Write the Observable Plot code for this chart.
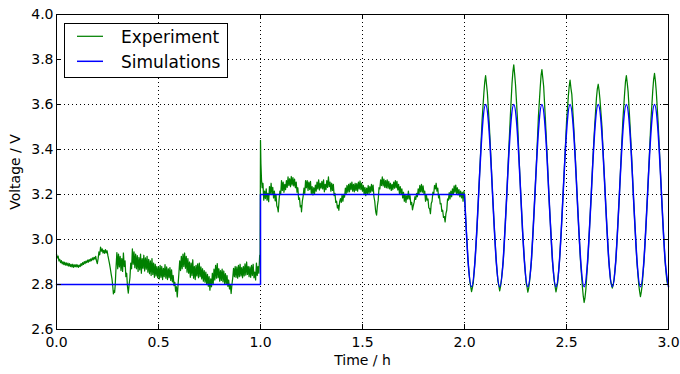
<!DOCTYPE html>
<html>
<head>
<meta charset="utf-8">
<script src="https://cdn.jsdelivr.net/npm/d3@7"></script>
<script src="https://cdn.jsdelivr.net/npm/@observablehq/plot@0.6"></script>
<style>
  html, body { margin: 0; padding: 0; background: #fff; }
  #wrap { position: relative; width: 680px; height: 374px; font-family: "DejaVu Sans", sans-serif; }
  #legend { position: absolute; left: 64px; top: 23px; width: 162px; height: 53px; border: 1px solid #000; background: #fff; }
  #legend svg { position: absolute; left: 0; top: 0; }
  #legend .tx { position: absolute; left: 56px; font-size: 17px; line-height: 20px; color: #000; white-space: nowrap; }
</style>
</head>
<body>
<div id="wrap"></div>
<script>
// ---------- data ----------
const xTicks = [0, 0.5, 1.0, 1.5, 2.0, 2.5, 3.0];
const yTicks = [2.6, 2.8, 3.0, 3.2, 3.4, 3.6, 3.8, 4.0];
const seriesNames = ["Experiment", "Simulations"];

// Experiment, rest period (0 - 1 h): [time h, voltage V]
const expRest = [
[0.000,2.935],[0.004,2.918],[0.008,2.926],[0.012,2.905],[0.016,2.912],[0.020,2.897],[0.024,2.906],[0.028,2.892],[0.032,2.901],[0.036,2.888],
[0.040,2.899],[0.044,2.886],[0.048,2.896],[0.052,2.884],[0.056,2.895],[0.060,2.882],[0.064,2.893],[0.068,2.880],[0.072,2.889],[0.076,2.878],
[0.080,2.890],[0.084,2.876],[0.088,2.887],[0.092,2.879],[0.096,2.889],[0.100,2.878],[0.104,2.887],[0.108,2.876],[0.112,2.886],[0.116,2.880],
[0.120,2.893],[0.124,2.884],[0.128,2.897],[0.132,2.889],[0.136,2.902],[0.140,2.893],[0.144,2.904],[0.148,2.897],[0.152,2.908],[0.156,2.899],
[0.160,2.911],[0.164,2.903],[0.168,2.914],[0.172,2.906],[0.176,2.918],[0.180,2.910],[0.184,2.921],[0.188,2.913],[0.192,2.925],[0.196,2.905],
[0.200,2.893],[0.204,2.915],[0.208,2.945],[0.212,2.932],[0.216,2.966],[0.220,2.948],[0.224,2.958],[0.228,2.940],[0.232,2.952],[0.236,2.938],
[0.240,2.955],[0.244,2.941],[0.248,2.950],[0.252,2.928],[0.256,2.910],[0.260,2.892],[0.264,2.870],[0.268,2.846],[0.272,2.825],[0.276,2.790],
[0.279,2.758],[0.282,2.772],[0.285,2.765],[0.288,2.800],[0.292,2.880],[0.296,2.942],[0.300,2.870],[0.304,2.935],[0.308,2.878],[0.312,2.925],
[0.316,2.862],[0.320,2.915],[0.324,2.858],[0.328,2.940],[0.332,2.880],[0.336,2.905],[0.340,2.835],[0.344,2.850],[0.348,2.790],[0.352,2.762],
[0.356,2.800],[0.360,2.830],[0.364,2.895],[0.368,2.870],[0.372,2.958],[0.376,2.890],[0.380,2.945],[0.384,2.875],[0.388,2.935],[0.392,2.870],
[0.396,2.928],[0.400,2.858],[0.404,2.920],[0.408,2.865],[0.412,2.935],[0.416,2.850],[0.420,2.915],[0.424,2.872],[0.428,2.930],[0.432,2.860],
[0.436,2.918],[0.440,2.868],[0.444,2.925],[0.448,2.855],[0.452,2.912],[0.456,2.848],[0.460,2.905],[0.464,2.840],[0.468,2.915],[0.472,2.845],
[0.476,2.895],[0.480,2.832],[0.484,2.890],[0.488,2.838],[0.492,2.880],[0.496,2.830],[0.500,2.878],[0.504,2.825],[0.508,2.885],[0.512,2.832],
[0.516,2.880],[0.520,2.822],[0.524,2.872],[0.528,2.835],[0.532,2.888],[0.536,2.828],[0.540,2.878],[0.544,2.822],[0.548,2.870],[0.552,2.830],
[0.556,2.875],[0.560,2.818],[0.564,2.865],[0.568,2.812],[0.572,2.840],[0.576,2.795],[0.580,2.810],[0.584,2.770],[0.588,2.790],[0.592,2.745],
[0.596,2.800],[0.600,2.850],[0.604,2.905],[0.608,2.862],[0.612,2.925],[0.616,2.870],[0.620,2.935],[0.624,2.880],[0.628,2.940],[0.632,2.872],
[0.636,2.925],[0.640,2.855],[0.644,2.915],[0.648,2.850],[0.652,2.900],[0.656,2.832],[0.660,2.895],[0.664,2.840],[0.668,2.910],[0.672,2.828],
[0.676,2.880],[0.680,2.822],[0.684,2.885],[0.688,2.838],[0.692,2.892],[0.696,2.830],[0.700,2.895],[0.704,2.835],[0.708,2.878],[0.712,2.825],
[0.716,2.870],[0.720,2.815],[0.724,2.862],[0.728,2.810],[0.732,2.855],[0.736,2.800],[0.740,2.845],[0.744,2.792],[0.748,2.835],[0.752,2.775],
[0.756,2.825],[0.760,2.790],[0.764,2.850],[0.768,2.800],[0.772,2.868],[0.776,2.820],[0.780,2.885],[0.784,2.828],[0.788,2.893],[0.792,2.830],
[0.796,2.870],[0.800,2.815],[0.804,2.862],[0.808,2.818],[0.812,2.868],[0.816,2.812],[0.820,2.860],[0.824,2.805],[0.828,2.848],[0.832,2.800],
[0.836,2.840],[0.840,2.792],[0.844,2.820],[0.848,2.780],[0.852,2.800],[0.856,2.760],[0.860,2.800],[0.864,2.830],[0.868,2.872],[0.872,2.835],
[0.876,2.880],[0.880,2.832],[0.884,2.878],[0.888,2.828],[0.892,2.885],[0.896,2.835],[0.900,2.890],[0.904,2.838],[0.908,2.875],[0.912,2.830],
[0.916,2.880],[0.920,2.838],[0.924,2.892],[0.928,2.842],[0.932,2.900],[0.936,2.845],[0.940,2.880],[0.944,2.835],[0.948,2.878],[0.952,2.832],
[0.956,2.885],[0.960,2.840],[0.964,2.890],[0.968,2.830],[0.972,2.855],[0.976,2.820],[0.980,2.895],[0.984,2.840],[0.988,2.880],[0.992,2.850],
[0.996,2.930],[0.998,2.905]
];

// Experiment, charge period (1 - 2 h)
const expCharge = [
[1.000,3.441],[1.002,3.338],[1.005,3.264],[1.008,3.230],[1.012,3.250],[1.016,3.175],[1.020,3.215],[1.024,3.182],[1.028,3.225],[1.032,3.175],
[1.036,3.205],[1.040,3.168],[1.044,3.235],[1.048,3.205],[1.052,3.250],[1.056,3.200],[1.060,3.232],[1.064,3.185],[1.068,3.215],[1.072,3.172],
[1.076,3.200],[1.080,3.150],[1.084,3.140],[1.087,3.123],[1.091,3.175],[1.095,3.215],[1.099,3.200],[1.103,3.262],[1.107,3.218],[1.111,3.255],
[1.115,3.210],[1.119,3.245],[1.123,3.222],[1.127,3.262],[1.131,3.232],[1.135,3.278],[1.139,3.240],[1.143,3.270],[1.147,3.235],[1.151,3.280],
[1.155,3.242],[1.159,3.275],[1.163,3.238],[1.167,3.268],[1.171,3.230],[1.175,3.255],[1.179,3.210],[1.183,3.230],[1.187,3.178],[1.191,3.185],
[1.195,3.145],[1.199,3.150],[1.201,3.123],[1.205,3.170],[1.209,3.192],[1.213,3.228],[1.217,3.205],[1.221,3.262],[1.225,3.230],[1.229,3.262],
[1.233,3.218],[1.237,3.255],[1.241,3.222],[1.245,3.258],[1.249,3.205],[1.253,3.235],[1.257,3.198],[1.261,3.230],[1.265,3.205],[1.269,3.242],
[1.273,3.215],[1.277,3.255],[1.281,3.225],[1.285,3.265],[1.289,3.220],[1.293,3.250],[1.297,3.228],[1.301,3.258],[1.305,3.225],[1.309,3.265],
[1.313,3.212],[1.317,3.245],[1.321,3.222],[1.325,3.262],[1.329,3.232],[1.333,3.278],[1.337,3.235],[1.341,3.255],[1.345,3.215],[1.349,3.250],
[1.353,3.218],[1.357,3.245],[1.361,3.195],[1.365,3.205],[1.369,3.165],[1.373,3.170],[1.377,3.140],[1.381,3.152],[1.384,3.130],[1.388,3.168],
[1.392,3.182],[1.396,3.165],[1.400,3.198],[1.404,3.170],[1.408,3.200],[1.412,3.188],[1.416,3.228],[1.420,3.205],[1.424,3.240],[1.428,3.210],
[1.432,3.245],[1.436,3.212],[1.440,3.250],[1.444,3.222],[1.448,3.255],[1.452,3.215],[1.456,3.245],[1.460,3.212],[1.464,3.250],[1.468,3.218],
[1.472,3.248],[1.476,3.215],[1.480,3.255],[1.484,3.225],[1.488,3.260],[1.492,3.222],[1.496,3.250],[1.500,3.215],[1.504,3.240],[1.508,3.200],
[1.512,3.232],[1.516,3.195],[1.520,3.228],[1.524,3.205],[1.528,3.240],[1.532,3.202],[1.536,3.235],[1.540,3.210],[1.544,3.245],[1.548,3.215],
[1.552,3.242],[1.556,3.190],[1.560,3.170],[1.564,3.130],[1.566,3.118],[1.569,3.108],[1.573,3.150],[1.577,3.175],[1.581,3.230],[1.585,3.225],
[1.589,3.265],[1.593,3.240],[1.597,3.278],[1.601,3.238],[1.605,3.268],[1.609,3.232],[1.613,3.262],[1.617,3.230],[1.621,3.265],[1.625,3.228],
[1.629,3.258],[1.633,3.225],[1.637,3.250],[1.641,3.218],[1.645,3.245],[1.649,3.222],[1.653,3.255],[1.657,3.228],[1.661,3.262],[1.665,3.230],
[1.669,3.258],[1.673,3.220],[1.677,3.245],[1.681,3.205],[1.685,3.235],[1.689,3.200],[1.693,3.225],[1.697,3.185],[1.701,3.210],[1.705,3.170],
[1.709,3.200],[1.713,3.165],[1.717,3.195],[1.721,3.180],[1.725,3.215],[1.729,3.180],[1.733,3.195],[1.737,3.155],[1.741,3.165],[1.745,3.132],
[1.749,3.150],[1.753,3.165],[1.757,3.190],[1.761,3.178],[1.765,3.205],[1.769,3.190],[1.773,3.225],[1.777,3.202],[1.781,3.240],[1.785,3.212],
[1.789,3.245],[1.793,3.210],[1.797,3.238],[1.801,3.205],[1.805,3.215],[1.809,3.170],[1.813,3.198],[1.817,3.175],[1.821,3.180],[1.825,3.140],
[1.829,3.138],[1.833,3.115],[1.837,3.160],[1.841,3.170],[1.845,3.210],[1.849,3.200],[1.853,3.240],[1.857,3.225],[1.861,3.250],[1.865,3.215],
[1.869,3.228],[1.873,3.185],[1.877,3.195],[1.881,3.158],[1.885,3.160],[1.889,3.125],[1.893,3.130],[1.897,3.098],[1.901,3.102],[1.905,3.078],
[1.909,3.115],[1.913,3.130],[1.917,3.180],[1.921,3.175],[1.925,3.208],[1.929,3.180],[1.933,3.215],[1.937,3.190],[1.941,3.225],[1.945,3.200],
[1.949,3.238],[1.953,3.210],[1.957,3.242],[1.961,3.205],[1.965,3.230],[1.969,3.198],[1.973,3.222],[1.977,3.190],[1.981,3.215],[1.985,3.185],
[1.989,3.210],[1.993,3.170],[1.997,3.215]
];

// Experiment, cycling period (2 - 3 h)
const expCycle = [
[2.0000,3.200],[2.0086,3.046],[2.0173,2.903],[2.0259,2.815],[2.0302,2.792],[2.0345,2.768],[2.0388,2.786],[2.0431,2.808],[2.0518,2.910],[2.0604,3.036],
[2.0690,3.198],[2.0776,3.358],[2.0863,3.531],[2.0949,3.650],[2.0992,3.700],[2.1035,3.728],[2.1078,3.690],[2.1121,3.652],[2.1208,3.522],[2.1294,3.365],
[2.1380,3.192],[2.1466,3.044],[2.1553,2.905],[2.1639,2.815],[2.1682,2.795],[2.1725,2.772],[2.1768,2.792],[2.1811,2.822],[2.1898,2.903],[2.1984,3.045],
[2.2070,3.192],[2.2156,3.370],[2.2243,3.540],[2.2329,3.693],[2.2372,3.745],[2.2415,3.776],[2.2458,3.735],[2.2501,3.688],[2.2588,3.550],[2.2674,3.362],
[2.2760,3.198],[2.2846,3.036],[2.2933,2.910],[2.3019,2.808],[2.3062,2.790],[2.3105,2.766],[2.3148,2.784],[2.3191,2.815],[2.3278,2.900],[2.3364,3.044],
[2.3450,3.196],[2.3536,3.360],[2.3623,3.545],[2.3709,3.672],[2.3752,3.728],[2.3795,3.755],[2.3838,3.718],[2.3881,3.680],[2.3968,3.530],[2.4054,3.368],
[2.4140,3.190],[2.4226,3.046],[2.4313,2.902],[2.4399,2.816],[2.4442,2.790],[2.4485,2.767],[2.4528,2.788],[2.4571,2.810],[2.4658,2.908],[2.4744,3.038],
[2.4830,3.198],[2.4916,3.355],[2.5003,3.524],[2.5089,3.636],[2.5132,3.680],[2.5175,3.708],[2.5218,3.672],[2.5261,3.645],[2.5348,3.512],[2.5434,3.362],
[2.5520,3.196],[2.5606,3.038],[2.5693,2.895],[2.5779,2.790],[2.5822,2.748],[2.5865,2.720],[2.5908,2.742],[2.5951,2.780],[2.6038,2.900],[2.6124,3.045],
[2.6210,3.192],[2.6296,3.362],[2.6383,3.508],[2.6469,3.630],[2.6512,3.670],[2.6555,3.690],[2.6598,3.662],[2.6641,3.622],[2.6728,3.515],[2.6814,3.352],
[2.6900,3.198],[2.6986,3.042],[2.7073,2.908],[2.7159,2.818],[2.7202,2.800],[2.7245,2.784],[2.7288,2.798],[2.7331,2.822],[2.7418,2.906],[2.7504,3.044],
[2.7590,3.194],[2.7676,3.362],[2.7763,3.530],[2.7849,3.650],[2.7892,3.702],[2.7935,3.728],[2.7978,3.695],[2.8021,3.656],[2.8108,3.520],[2.8194,3.365],
[2.8280,3.192],[2.8366,3.044],[2.8453,2.900],[2.8539,2.802],[2.8582,2.770],[2.8625,2.746],[2.8668,2.768],[2.8711,2.798],[2.8798,2.905],[2.8884,3.040],
[2.8970,3.196],[2.9056,3.362],[2.9143,3.535],[2.9229,3.662],[2.9272,3.712],[2.9315,3.738],[2.9358,3.705],[2.9401,3.658],[2.9488,3.525],[2.9574,3.360],
[2.9660,3.195],[2.9746,3.040],[2.9833,2.905],[2.9919,2.815],[2.9962,2.800]
];

// Simulation, constant-current steps
const simStepTime = [0.0, 1.0, 1.0, 2.0];
const simStepVolt = [2.8, 2.8, 3.2, 3.2];

// Simulation, cycling period (sampled every 1/8 cycle)
const simCycleTime = [
2.0000,2.0173,2.0345,2.0518,2.0690,2.0863,2.1035,2.1208,
2.1380,2.1553,2.1725,2.1898,2.2070,2.2243,2.2415,2.2588,
2.2760,2.2933,2.3105,2.3278,2.3450,2.3623,2.3795,2.3968,
2.4140,2.4313,2.4485,2.4658,2.4830,2.5003,2.5175,2.5348,
2.5520,2.5693,2.5865,2.6038,2.6210,2.6383,2.6555,2.6728,
2.6900,2.7073,2.7245,2.7418,2.7590,2.7763,2.7935,2.8108,
2.8280,2.8453,2.8625,2.8798,2.8970,2.9143,2.9315,2.9488,
2.9660,2.9833,3.0000
];
const simCycleVolt = [
3.200,2.909,2.790,2.909,3.195,3.481,3.600,3.481,
3.195,2.909,2.790,2.909,3.195,3.481,3.600,3.481,
3.195,2.909,2.790,2.909,3.195,3.481,3.600,3.481,
3.195,2.909,2.790,2.909,3.195,3.481,3.600,3.481,
3.195,2.909,2.790,2.909,3.195,3.481,3.600,3.481,
3.195,2.909,2.790,2.909,3.195,3.481,3.600,3.481,
3.195,2.909,2.790,2.909,3.195,3.481,3.600,3.481,
3.195,2.909,2.790
];

// ---------- chart ----------
const GREEN = "#008000", BLUE = "#0000ff";
const experiment = [...expRest, ...expCharge, ...expCycle].map(([t, v]) => ({t, v}));
const simStep = simStepTime.map((t, i) => ({t, v: simStepVolt[i]}));
const simCycle = simCycleTime.map((t, i) => ({t, v: simCycleVolt[i]}));
const fmt = d3.format(".1f");
const dotted = {stroke: "#000", strokeOpacity: 1, strokeWidth: 1, strokeDasharray: "1,3"};

const chart = Plot.plot({
  width: 680,
  height: 374,
  marginLeft: 56,
  marginRight: 12,
  marginTop: 14,
  marginBottom: 45,
  style: {fontFamily: "DejaVu Sans", fontSize: "14px", background: "#fff", color: "#000"},
  x: {domain: [0, 3]},
  y: {domain: [2.6, 4.0]},
  marks: [
    Plot.gridX(xTicks, dotted),
    Plot.gridY(yTicks, dotted),
    Plot.line(experiment, {x: "t", y: "v", stroke: GREEN, strokeWidth: 1.25}),
    Plot.line(simStep, {x: "t", y: "v", stroke: BLUE, strokeWidth: 1.5}),
    Plot.line(simCycle, {x: "t", y: "v", stroke: BLUE, strokeWidth: 1.5, curve: "natural"}),
    Plot.tickX(xTicks, {x: d => d, stroke: "#000", insetTop: 310}),
    Plot.tickX(xTicks, {x: d => d, stroke: "#000", insetBottom: 310}),
    Plot.tickY(yTicks, {y: d => d, stroke: "#000", insetRight: 607}),
    Plot.tickY(yTicks, {y: d => d, stroke: "#000", insetLeft: 607}),
    Plot.frame({stroke: "#000", strokeWidth: 1}),
    Plot.axisX(xTicks, {tickSize: 0, tickPadding: 8, tickFormat: fmt, label: null, fontSize: 14, fill: "#000"}),
    Plot.axisY(yTicks, {tickSize: 0, tickPadding: 3, tickFormat: fmt, label: null, fontSize: 14, fill: "#000"}),
    Plot.text(["Time / h"], {text: d => d, frameAnchor: "bottom", dy: 31, lineAnchor: "middle", textAnchor: "middle", fontSize: 14, fill: "#000"}),
    Plot.text(["Voltage / V"], {text: d => d, frameAnchor: "left", dx: -41, rotate: -90, lineAnchor: "middle", textAnchor: "middle", fontSize: 14, fill: "#000"})
  ]
});

const wrap = document.getElementById("wrap");
wrap.appendChild(chart);

// legend (drawn over the plot, as in the original)
const legend = document.createElement("div");
legend.id = "legend";
const legendColors = [GREEN, BLUE];
const legendWidths = [1.25, 1.5];
const svgNS = "http://www.w3.org/2000/svg";
const lsvg = document.createElementNS(svgNS, "svg");
lsvg.setAttribute("width", "162");
lsvg.setAttribute("height", "53");
legend.appendChild(lsvg);
seriesNames.forEach((name, i) => {
  const ln = document.createElementNS(svgNS, "line");
  const yy = 12.3 + 25 * i;
  ln.setAttribute("x1", "12");
  ln.setAttribute("x2", "38");
  ln.setAttribute("y1", yy);
  ln.setAttribute("y2", yy);
  ln.setAttribute("stroke", legendColors[i]);
  ln.setAttribute("stroke-width", legendWidths[i]);
  lsvg.appendChild(ln);
  const tx = document.createElement("div");
  tx.className = "tx";
  tx.style.top = (3 + 25 * i) + "px";
  tx.textContent = name;
  legend.appendChild(tx);
});
wrap.appendChild(legend);
</script>
</body>
</html>
